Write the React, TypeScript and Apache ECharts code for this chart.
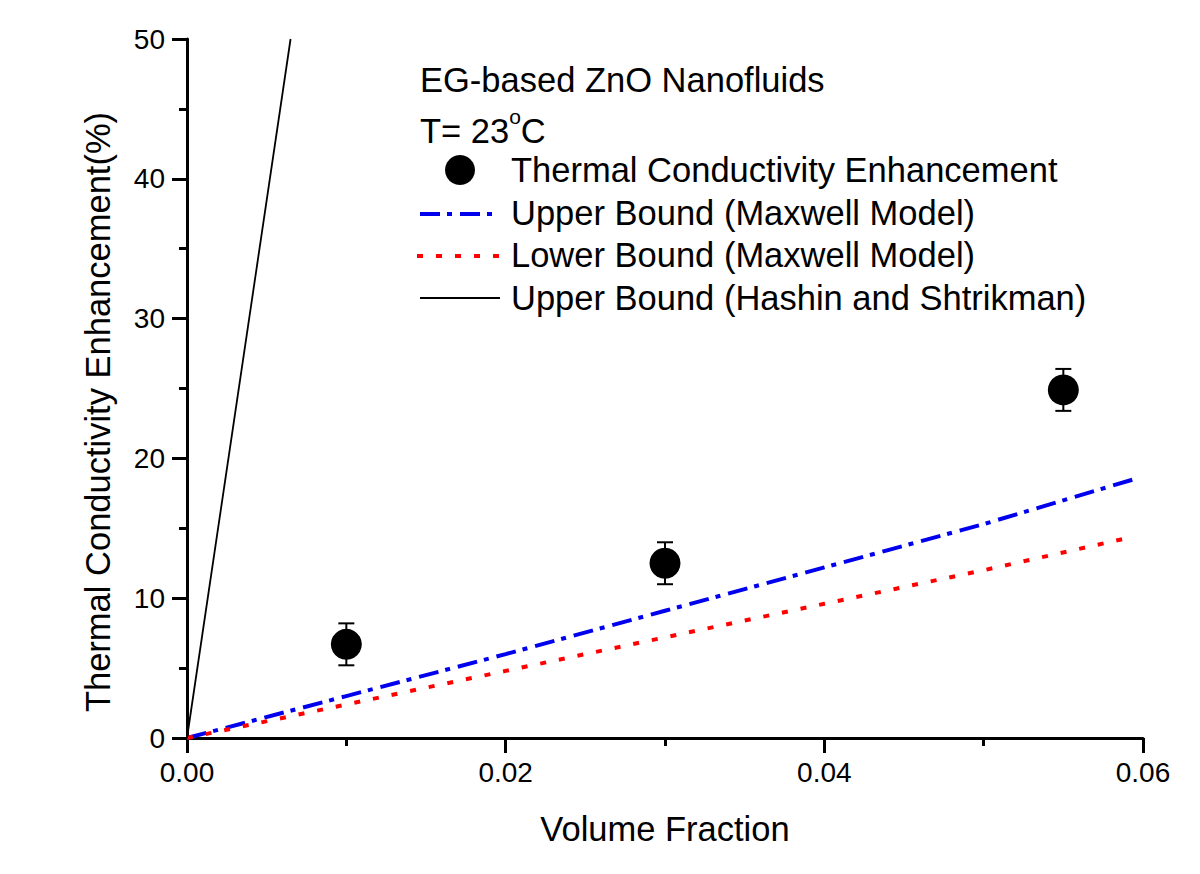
import React, { useEffect, useRef } from "react";
import * as echarts from "echarts";

const measuredX = [0.01, 0.03, 0.055];
const measuredY = [6.7, 12.5, 24.9];
const measuredErr = [1.5, 1.5, 1.5];

const upperMaxwellX = [0, 0.01, 0.02, 0.03, 0.04, 0.05, 0.0594];
const upperMaxwellY = [0, 3.0, 6.0, 9.1, 12.2, 15.3, 18.5];

const lowerMaxwellX = [0, 0.01, 0.02, 0.03, 0.04, 0.05, 0.0594];
const lowerMaxwellY = [0, 2.4, 4.8, 7.2, 9.6, 12.0, 14.4];

const hashinX = [0, 0.0065];
const hashinY = [0, 50];

const seriesNames = [
  "Thermal Conductivity Enhancement",
  "Upper Bound (Maxwell Model)",
  "Lower Bound (Maxwell Model)",
  "Upper Bound (Hashin and Shtrikman)",
];
const xAxisName = "Volume Fraction";
const yAxisName = "Thermal Conductivity Enhancement(%)";

const FONT = "Arial, 'Liberation Sans', sans-serif";
const BIG = 34.5;
const BLUE = "#0000ee";
const RED = "#ff0000";
const BLUE_DASH = [20, 7, 5, 8];
const RED_DASH = [6, 13];

const zip = (xs: number[], ys: number[]) => xs.map((x, i) => [x, ys[i]]);

export default function App() {
  const ref = useRef<HTMLDivElement>(null);
  useEffect(() => {
    if (!ref.current) return;
    const chart = echarts.init(ref.current, null, { renderer: "svg" });
    const errData = measuredX.map((x, i) => [x, measuredY[i] - measuredErr[i], measuredY[i] + measuredErr[i]]);
    const legendTextX = 511;
    const rowY = [170, 213, 255, 298];
    const legendText = (i: number) => ({
      type: "text",
      x: legendTextX,
      y: rowY[i],
      style: {
        text: seriesNames[i],
        fontSize: BIG,
        fontFamily: FONT,
        fill: "#000",
        verticalAlign: "middle",
        align: "left",
      },
    });
    chart.setOption({
      animation: false,
      backgroundColor: "#fff",
      textStyle: { fontFamily: FONT },
      grid: { left: 187, right: 57, top: 39, bottom: 136, containLabel: false },
      xAxis: {
        type: "value",
        min: 0,
        max: 0.06,
        interval: 0.02,
        name: xAxisName,
        nameLocation: "middle",
        nameGap: 73,
        nameTextStyle: { fontSize: BIG, color: "#000", fontFamily: FONT },
        axisLine: { show: true, lineStyle: { color: "#000", width: 3 } },
        axisTick: { show: true, inside: false, length: 15, lineStyle: { color: "#000", width: 3 } },
        minorTick: { show: true, splitNumber: 2, length: 8, lineStyle: { color: "#000", width: 3 } },
        splitLine: { show: false },
        axisLabel: {
          fontSize: 28,
          color: "#000",
          margin: 20,
          fontFamily: FONT,
          formatter: (v: number) => v.toFixed(2),
        },
      },
      yAxis: {
        type: "value",
        min: 0,
        max: 50,
        interval: 10,
        axisLine: { show: true, lineStyle: { color: "#000", width: 3 } },
        axisTick: { show: true, inside: false, length: 15, lineStyle: { color: "#000", width: 3 } },
        minorTick: { show: true, splitNumber: 2, length: 8, lineStyle: { color: "#000", width: 3 } },
        splitLine: { show: false },
        axisLabel: { fontSize: 28, color: "#000", margin: 22, fontFamily: FONT },
      },
      graphic: [
        {
          type: "text",
          x: 98,
          y: 412,
          rotation: Math.PI / 2,
          style: { text: yAxisName, fontSize: BIG, fontFamily: FONT, fill: "#000", align: "center", verticalAlign: "middle" },
        },
        {
          type: "text",
          x: 420,
          y: 80,
          style: { text: "EG-based ZnO Nanofluids", fontSize: BIG, fontFamily: FONT, fill: "#000", verticalAlign: "middle" },
        },
        {
          type: "text",
          x: 420,
          y: 106,
          style: {
            text: "{n|T= 23}{s|o}{n|C}",
            fill: "#000",
            rich: {
              n: { fontSize: BIG, fontFamily: FONT, fill: "#000", verticalAlign: "bottom", lineHeight: 42 },
              s: { fontSize: 21, fontFamily: FONT, fill: "#000", verticalAlign: "top", lineHeight: 42, padding: [0, 0, 17, 0] },
            },
          },
        },
        { type: "circle", shape: { cx: 460, cy: rowY[0], r: 15 }, style: { fill: "#000" } },
        legendText(0),
        {
          type: "line",
          shape: { x1: 420, y1: rowY[1] + 1, x2: 494, y2: rowY[1] + 1 },
          style: { stroke: BLUE, lineWidth: 4, lineDash: BLUE_DASH },
        },
        legendText(1),
        {
          type: "line",
          shape: { x1: 417, y1: rowY[2] + 1, x2: 502, y2: rowY[2] + 1 },
          style: { stroke: RED, lineWidth: 4, lineDash: RED_DASH },
        },
        legendText(2),
        {
          type: "line",
          shape: { x1: 420, y1: rowY[3], x2: 500, y2: rowY[3] },
          style: { stroke: "#000", lineWidth: 1.8 },
        },
        legendText(3),
      ],
      series: [
        {
          name: seriesNames[0],
          type: "scatter",
          symbol: "circle",
          symbolSize: 31,
          itemStyle: { color: "#000", opacity: 1 },
          data: zip(measuredX, measuredY),
          z: 5,
        },
        {
          name: "errorbars",
          type: "custom",
          data: errData,
          z: 4,
          renderItem: (params: any, api: any) => {
            const x = api.value(0);
            const lo = api.coord([x, api.value(1)]);
            const hi = api.coord([x, api.value(2)]);
            const cap = 8;
            const st = { stroke: "#000", lineWidth: 2 };
            return {
              type: "group",
              children: [
                { type: "line", shape: { x1: lo[0], y1: lo[1], x2: hi[0], y2: hi[1] }, style: st },
                { type: "line", shape: { x1: lo[0] - cap, y1: lo[1], x2: lo[0] + cap, y2: lo[1] }, style: st },
                { type: "line", shape: { x1: hi[0] - cap, y1: hi[1], x2: hi[0] + cap, y2: hi[1] }, style: st },
              ],
            };
          },
        },
        {
          name: seriesNames[1],
          type: "line",
          symbol: "none",
          showSymbol: false,
          color: BLUE,
          lineStyle: { color: BLUE, width: 4, type: BLUE_DASH },
          data: zip(upperMaxwellX, upperMaxwellY),
        },
        {
          name: seriesNames[2],
          type: "line",
          symbol: "none",
          showSymbol: false,
          color: RED,
          lineStyle: { color: RED, width: 4, type: RED_DASH },
          data: zip(lowerMaxwellX, lowerMaxwellY),
        },
        {
          name: seriesNames[3],
          type: "line",
          symbol: "none",
          showSymbol: false,
          color: "#000",
          lineStyle: { color: "#000", width: 1.8, type: "solid" },
          data: zip(hashinX, hashinY),
        },
      ],
    });
    return () => chart.dispose();
  }, []);
  return <div ref={ref} style={{ width: 1200, height: 874, margin: -8 }} />;
}
